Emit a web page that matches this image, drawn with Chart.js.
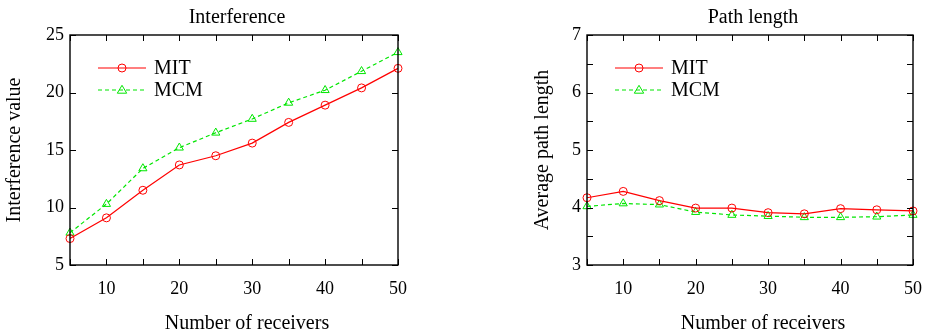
<!DOCTYPE html>
<html>
<head>
<meta charset="utf-8">
<script src="https://cdn.jsdelivr.net/npm/chart.js@4.4.1/dist/chart.umd.min.js"></script>
<style>
    body { margin: 0; background: #fff; }
    .panel { position: absolute; top: 0; width: 463px; height: 332px; }
</style>
</head>
<body>
<div class="panel" style="left:0"><canvas id="interferenceChart" width="463" height="332"></canvas></div>
<div class="panel" style="left:463px"><canvas id="pathChart" width="463" height="332"></canvas></div>
<script>
// Data
const receivers = [5, 10, 15, 20, 25, 30, 35, 40, 45, 50];
const interferenceMIT = [7.3, 9.1, 11.5, 13.7, 14.5, 15.6, 17.4, 18.9, 20.4, 22.1];
const interferenceMCM = [7.8, 10.3, 13.4, 15.2, 16.5, 17.7, 19.1, 20.2, 21.85, 23.5];
const pathMIT = [4.17, 4.28, 4.12, 3.99, 3.99, 3.91, 3.89, 3.98, 3.96, 3.94];
const pathMCM = [4.02, 4.07, 4.05, 3.92, 3.87, 3.85, 3.83, 3.83, 3.84, 3.87];
const seriesNames = ['MIT', 'MCM'];

const FONT = 'Liberation Serif, Times New Roman, serif';
const RED = '#ff0000';
const GREEN = '#00e600';

function toPoints(values) {
    return receivers.map((x, i) => ({ x: x, y: values[i] }));
}

function drawMarker(ctx, style, x, y, color) {
    ctx.save();
    ctx.strokeStyle = color;
    ctx.lineWidth = 1;
    ctx.setLineDash([]);
    ctx.beginPath();
    if (style === 'circle') {
        ctx.arc(x, y, 4, 0, Math.PI * 2);
    } else {
        ctx.moveTo(x, y - 4.7);
        ctx.lineTo(x + 4.7, y + 3.2);
        ctx.lineTo(x - 4.7, y + 3.2);
        ctx.closePath();
    }
    ctx.stroke();
    ctx.restore();
}

// Frame, inward ticks, titles and gnuplot-style legend
const framePlugin = {
    id: 'frame',
    afterDatasetsDraw(chart, args, opts) {
        const ctx = chart.ctx;
        const a = chart.chartArea;
        const xs = chart.scales.x;
        const ys = chart.scales.y;
        ctx.save();
        ctx.strokeStyle = '#000';
        ctx.lineWidth = 1.4;
        ctx.strokeRect(a.left, a.top, a.right - a.left, a.bottom - a.top);

        ctx.lineWidth = 1;
        ctx.beginPath();
        xs.ticks.forEach(t => {
            const px = Math.round(xs.getPixelForValue(t.value)) + 0.5;
            ctx.moveTo(px, a.bottom); ctx.lineTo(px, a.bottom - 6);
            ctx.moveTo(px, a.top); ctx.lineTo(px, a.top + 6);
        });
        ys.ticks.forEach(t => {
            const py = Math.round(ys.getPixelForValue(t.value)) + 0.5;
            ctx.moveTo(a.left, py); ctx.lineTo(a.left + 6, py);
            ctx.moveTo(a.right, py); ctx.lineTo(a.right - 6, py);
        });
        ctx.stroke();

        // titles
        ctx.fillStyle = '#000';
        ctx.font = '20px ' + FONT;
        ctx.textAlign = 'center';
        ctx.textBaseline = 'middle';
        const cx = (a.left + a.right) / 2;
        ctx.fillText(opts.title, cx + 3, 18);
        ctx.fillText(opts.xTitle, cx + 13, 324);

        // legend
        chart.data.datasets.forEach((ds, i) => {
            const y = a.top + 33 + i * 22;
            const x0 = a.left + 28;
            ctx.strokeStyle = ds.borderColor;
            ctx.lineWidth = ds.borderWidth;
            ctx.setLineDash(ds.borderDash || []);
            ctx.beginPath();
            ctx.moveTo(x0, y);
            ctx.lineTo(x0 + 48, y);
            ctx.stroke();
            drawMarker(ctx, ds.pointStyle, x0 + 24, y, ds.borderColor);
            ctx.fillStyle = '#000';
            ctx.textAlign = 'left';
            ctx.fillText(ds.label, x0 + 56, y + 1);
        });
        ctx.restore();
    }
};

function makeChart(canvasId, cfg) {
    const datasets = [
        {
            label: seriesNames[0],
            data: toPoints(cfg.mit),
            borderColor: RED,
            borderWidth: 1.2,
            pointStyle: 'circle',
            pointRadius: 4,
            pointBorderWidth: 1,
            pointBackgroundColor: 'rgba(0,0,0,0)',
            pointBorderColor: RED,
            tension: 0,
            clip: false
        },
        {
            label: seriesNames[1],
            data: toPoints(cfg.mcm),
            borderColor: GREEN,
            borderWidth: 1.2,
            borderDash: [4, 3],
            pointStyle: 'triangle',
            pointRadius: 4.7,
            pointBorderWidth: 1,
            pointBackgroundColor: 'rgba(0,0,0,0)',
            pointBorderColor: GREEN,
            tension: 0,
            clip: false
        }
    ];

    return new Chart(document.getElementById(canvasId).getContext('2d'), {
        type: 'line',
        data: { datasets: datasets },
        options: {
            responsive: false,
            animation: false,
            layout: { padding: { left: cfg.padLeft, right: cfg.padRight, top: 35, bottom: 0 } },
            plugins: {
                legend: { display: false },
                tooltip: { enabled: false },
                frame: { title: cfg.title, xTitle: 'Number of receivers' }
            },
            scales: {
                x: {
                    type: 'linear',
                    min: 5,
                    max: 50,
                    grid: { display: false, drawTicks: false },
                    border: { display: false },
                    ticks: {
                        stepSize: 5,
                        padding: 13,
                        maxRotation: 0,
                        autoSkip: false,
                        color: '#000',
                        font: { family: FONT, size: 18 },
                        callback: v => (v % 10 === 0 ? v : '')
                    },
                    afterFit: s => {
                        s.height = 67;
                        s.paddingLeft = 0; s.paddingRight = 0;
                    }
                },
                y: {
                    min: cfg.yMin,
                    max: cfg.yMax,
                    grid: { display: false, drawTicks: false },
                    border: { display: false },
                    ticks: {
                        stepSize: cfg.yStep,
                        padding: 6,
                        color: '#000',
                        font: { family: FONT, size: 18 },
                        callback: v => (Number.isInteger(v) && v % cfg.yLabelEvery === 0 ? v : '')
                    },
                    title: {
                        display: true,
                        text: cfg.yTitle,
                        color: '#000',
                        padding: { top: 0, bottom: 0 },
                        font: { family: FONT, size: 20 }
                    },
                    afterFit: s => {
                        s.width = cfg.yWidth;
                        s.paddingTop = 0; s.paddingBottom = 0;
                    }
                }
            }
        },
        plugins: [framePlugin]
    });
}

makeChart('interferenceChart', {
    title: 'Interference',
    yTitle: 'Interference value',
    mit: interferenceMIT,
    mcm: interferenceMCM,
    yMin: 5, yMax: 25, yStep: 5, yLabelEvery: 5,
    padLeft: 3, padRight: 65, yWidth: 67
});

makeChart('pathChart', {
    title: 'Path length',
    yTitle: 'Average path length',
    mit: pathMIT,
    mcm: pathMCM,
    yMin: 3, yMax: 7, yStep: 0.5, yLabelEvery: 1,
    padLeft: 68, padRight: 13, yWidth: 56
});
</script>
</body>
</html>
